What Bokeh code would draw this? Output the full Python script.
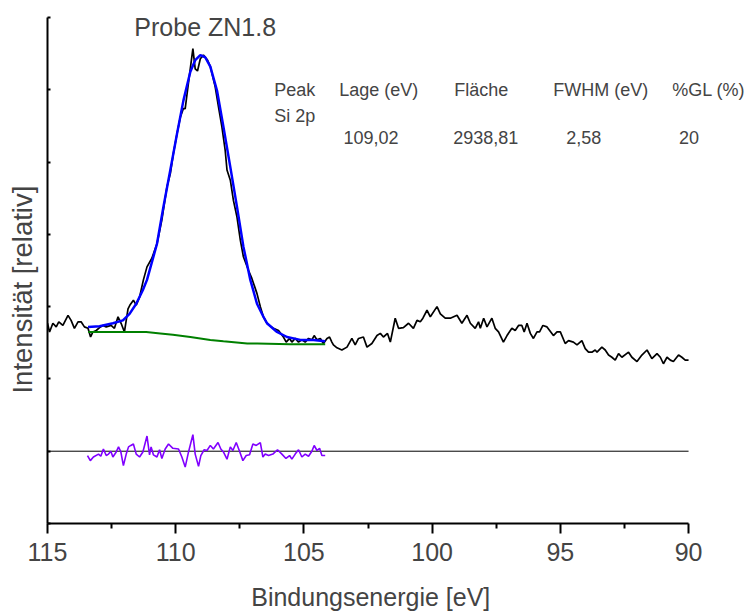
from bokeh.plotting import figure
from bokeh.models import Range1d, FixedTicker, Label, CustomJSTickFormatter
from bokeh.embed import file_html
from bokeh.resources import INLINE

# ---------------- data ----------------
# measured Si 2p spectrum: binding energy [eV] and intensity [relative counts]
spec_eV = [115.00, 114.92, 114.79, 114.66, 114.56, 114.40, 114.20, 114.08, 113.95, 113.81,
           113.69, 113.56, 113.42, 113.32, 113.23, 113.10, 112.97, 112.84, 112.71, 112.52,
           112.39, 112.25, 112.13, 112.00, 111.86, 111.77, 111.65, 111.54, 111.41, 111.26,
           111.12, 110.93, 110.73, 110.54, 110.34, 110.21, 110.09, 109.95, 109.82, 109.70,
           109.63, 109.54, 109.44, 109.33, 109.24, 109.15, 109.04, 108.92, 108.76, 108.65,
           108.46, 108.33, 108.20, 108.07, 108.00, 107.87, 107.75, 107.61, 107.48, 107.36,
           107.16, 107.03, 106.83, 106.70, 106.58, 106.44, 106.31, 106.19, 105.99, 105.80,
           105.69, 105.56, 105.47, 105.34, 105.21, 105.08, 104.95, 104.82, 104.69, 104.60,
           104.49, 104.36, 104.24, 104.10, 104.00, 103.91, 103.85, 103.71, 103.52, 103.32,
           103.13, 103.00, 102.87, 102.68, 102.54, 102.35, 102.15, 102.02, 101.90, 101.74,
           101.63, 101.44, 101.31, 101.12, 100.92, 100.73, 100.59, 100.46, 100.36, 100.20,
           100.07, 99.81, 99.68, 99.49, 99.29, 99.03, 98.84, 98.64, 98.51, 98.32,
           98.19, 98.12, 97.99, 97.86, 97.67, 97.54, 97.41, 97.22, 97.08, 96.89,
           96.76, 96.63, 96.50, 96.41, 96.30, 96.17, 96.05, 95.91, 95.81, 95.68,
           95.52, 95.27, 95.13, 95.00, 94.81, 94.68, 94.49, 94.35, 94.16, 94.03,
           93.90, 93.77, 93.64, 93.57, 93.38, 93.25, 93.12, 92.99, 92.86, 92.73,
           92.60, 92.34, 92.21, 92.01, 91.82, 91.62, 91.43, 91.23, 91.10, 90.98,
           90.84, 90.71, 90.59, 90.39, 90.26, 90.13, 90.00]
spec_int = [1770, 1650, 1770, 1720, 1790, 1740, 1880, 1810, 1700, 1790,
            1790, 1720, 1700, 1580, 1650, 1670, 1710, 1740, 1720, 1740,
            1700, 1860, 1770, 1650, 1970, 2030, 2090, 2020, 2130, 2370,
            2550, 2670, 2870, 3200, 3660, 3840, 4120, 4390, 4620, 4740,
            4740, 4990, 5270, 5570, 5290, 5260, 5430, 5480, 5410, 5320,
            5040, 4760, 4490, 4160, 3890, 3750, 3470, 3240, 2920, 2690,
            2500, 2390, 2180, 2000, 1860, 1770, 1730, 1700, 1670, 1580,
            1510, 1560, 1510, 1560, 1510, 1540, 1510, 1560, 1540, 1600,
            1540, 1560, 1490, 1560, 1580, 1510, 1470, 1430, 1400, 1440,
            1560, 1470, 1560, 1580, 1440, 1490, 1600, 1630, 1580, 1630,
            1510, 1840, 1700, 1710, 1770, 1700, 1810, 1790, 1840, 1950,
            1860, 2000, 1900, 1840, 1840, 1880, 1770, 1880, 1770, 1700,
            1790, 1700, 1840, 1720, 1840, 1700, 1650, 1510, 1600, 1700,
            1670, 1740, 1740, 1650, 1770, 1630, 1560, 1650, 1650, 1740,
            1720, 1600, 1650, 1650, 1490, 1530, 1510, 1470, 1530, 1420,
            1370, 1370, 1400, 1370, 1440, 1400, 1330, 1300, 1260, 1350,
            1300, 1370, 1300, 1240, 1330, 1400, 1280, 1350, 1300, 1210,
            1300, 1260, 1240, 1330, 1300, 1260, 1260]

# fitted envelope (peak + background)
fit_eV = [113.42, 112.97, 112.45, 112.06, 111.80, 111.54, 111.28, 111.12, 110.73, 110.48,
          110.21, 109.95, 109.70, 109.43, 109.24, 109.04, 108.85, 108.65, 108.39, 108.14,
          107.87, 107.61, 107.36, 107.09, 106.83, 106.58, 106.44, 106.05, 105.66, 105.14,
          104.63, 104.17]
fit_int = [1720, 1730, 1770, 1810, 1900, 2040, 2230, 2370, 2870, 3380,
           3890, 4390, 4850, 5250, 5410, 5480, 5450, 5320, 4990, 4490,
           3930, 3380, 2830, 2370, 2040, 1860, 1770, 1650, 1580, 1540,
           1540, 1520]

# Shirley background
bg_eV = [113.41, 112.45, 111.80, 111.15, 110.60, 110.11, 109.43, 108.65, 108.14, 107.21,
         106.82, 105.53, 104.17]
bg_int = [1650, 1650, 1650, 1650, 1630, 1610, 1580, 1540, 1520, 1490,
          1490, 1480, 1480]

# residual (measured - fit)
res_eV = [113.44, 113.33, 113.21, 113.01, 112.92, 112.82, 112.71, 112.62, 112.53, 112.45,
          112.32, 112.23, 112.14, 112.04, 111.93, 111.84, 111.75, 111.65, 111.54, 111.41,
          111.28, 111.12, 111.02, 110.96, 110.87, 110.73, 110.63, 110.54, 110.41, 110.28,
          110.11, 109.89, 109.76, 109.63, 109.50, 109.33, 109.24, 109.11, 109.02, 108.89,
          108.78, 108.65, 108.53, 108.35, 108.24, 108.14, 108.00, 107.87, 107.77, 107.64,
          107.51, 107.38, 107.25, 107.12, 106.99, 106.86, 106.70, 106.60, 106.51, 106.38,
          106.21, 106.03, 105.86, 105.70, 105.56, 105.47, 105.34, 105.21, 105.08, 104.95,
          104.82, 104.69, 104.60, 104.49, 104.39, 104.30, 104.17]
res_int = [-60, -130, -80, -40, -70, 30, -60, -40, 0, -80,
           -10, 60, -10, -200, -40, 60, 80, 100, -40, -80,
           -10, 210, -50, 60, -50, -80, 20, -100, 30, 100,
           40, 30, -80, -220, -10, 230, -40, -210, -60, 20,
           10, 80, 30, 120, 30, -10, -110, 60, 10, 120,
           0, -130, -60, -50, 100, 80, 120, -80, -40, -60,
           -40, 20, -40, -100, -60, -110, -40, 20, -80, -40,
           -70, 0, 80, 10, 40, -60, -60]

x_ticks = [115, 110, 105, 100, 95, 90]
x_minor = [112.5, 107.5, 102.5, 97.5, 92.5]
y_ticks = [-1000, 0, 1000, 2000, 3000, 4000, 5000, 6000]

x_label = "Bindungsenergie [eV]"
y_label = "Intensität [relativ]"
title_text = "Probe ZN1.8"
table_header = ["Peak", "Lage (eV)", "Fläche", "FWHM (eV)", "%GL (%)"]
peak_name = "Si 2p"
table_values = ["109,02", "2938,81", "2,58", "20"]

# ---------------- layout / styling ----------------
FONT = "Liberation Sans"
X_LO, X_HI = x_ticks[-1], x_ticks[0]
# frame reaches the right window edge so the table is not clipped; the axis stops at 90 eV
X_VIEW_END = 87.35
# axis labels are centred on the frame; pad them so the visible text sits where the original has it
X_LABEL_PAD = "\u00a0" * 9
Y_LABEL_PAD = "\u00a0" * 5

p = figure(width=756, height=615, output_backend="svg", toolbar_location=None,
           x_range=Range1d(X_HI, X_VIEW_END), y_range=Range1d(-1000, 6000),
           min_border_left=47, min_border_right=0, min_border_top=17, min_border_bottom=92)
p.outline_line_color = None
p.grid.visible = False
p.background_fill_color = "white"
p.border_fill_color = "white"

# x axis
xa = p.xaxis[0]
xa.bounds = (X_LO, X_HI)
xa.ticker = FixedTicker(ticks=x_ticks, minor_ticks=x_minor)
xa.axis_label = x_label + X_LABEL_PAD
xa.axis_label_text_font = FONT
xa.axis_label_text_font_size = "25px"
xa.axis_label_text_font_style = "normal"
xa.axis_label_standoff = 19
xa.major_label_text_font = FONT
xa.major_label_text_font_size = "25px"
xa.major_label_standoff = 9
xa.axis_line_width = 2
xa.major_tick_line_width = 2
xa.minor_tick_line_width = 2
xa.major_tick_out = 10
xa.major_tick_in = 0
xa.minor_tick_out = 5
xa.minor_tick_in = 0

# y axis
ya = p.yaxis[0]
ya.ticker = FixedTicker(ticks=y_ticks, minor_ticks=[])
ya.formatter = CustomJSTickFormatter(code="return ''")
ya.major_label_text_font_size = "0px"
ya.major_label_standoff = 0
ya.axis_label = y_label + Y_LABEL_PAD
ya.axis_label_text_font = FONT
ya.axis_label_text_font_size = "27.5px"
ya.axis_label_text_font_style = "normal"
ya.axis_label_standoff = 10
ya.axis_line_width = 2
ya.major_tick_line_width = 2
ya.major_tick_in = 3
ya.major_tick_out = 0
ya.minor_tick_line_color = None

# zero line for the residual, across the axis extent
p.line([X_HI, X_LO], [0, 0], line_color="black", line_width=1)

# data lines
p.line(spec_eV, spec_int, line_color="black", line_width=1.7)
p.line(bg_eV, bg_int, line_color="#008000", line_width=2)
p.line(fit_eV, fit_int, line_color="#0000ff", line_width=2.5)
p.line(res_eV, res_int, line_color="#8000ff", line_width=1.6)

# title and table (data-space anchors)
p.add_layout(Label(x=108.85, y=5864, text=title_text, text_font=FONT, text_font_size="25px",
                   text_align="center", text_baseline="alphabetic"))
header_x = [106.16, 103.62, 99.14, 95.28, 90.64]
value_x = [103.46, 99.18, 94.77, 90.37]
row_y = [5000, 4640, 4340]
TABLE_FS = "18px"
for hx, t in zip(header_x, table_header):
    p.add_layout(Label(x=hx, y=row_y[0], text=t, text_font=FONT, text_font_size=TABLE_FS,
                       text_baseline="alphabetic"))
p.add_layout(Label(x=header_x[0], y=row_y[1], text=peak_name, text_font=FONT,
                   text_font_size=TABLE_FS, text_baseline="alphabetic"))
for vx, t in zip(value_x, table_values):
    p.add_layout(Label(x=vx, y=row_y[2], text=t, text_font=FONT, text_font_size=TABLE_FS,
                       text_baseline="alphabetic"))

open("out.html", "w").write(file_html(p, INLINE))
